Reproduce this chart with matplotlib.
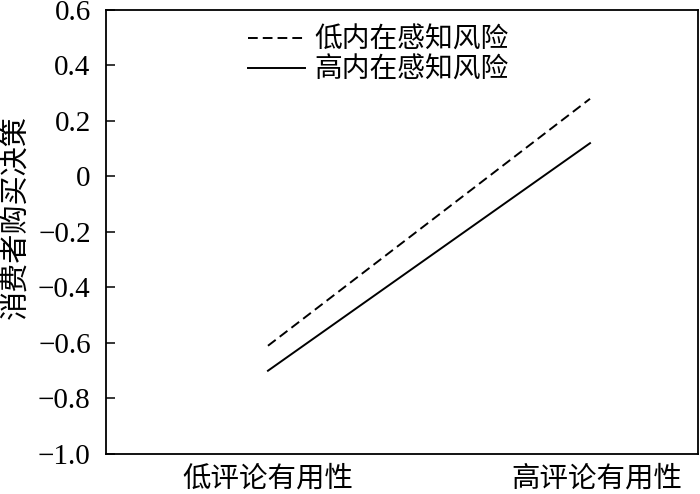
"""Interaction plot: review usefulness x intrinsic perceived risk."""

import matplotlib

matplotlib.use("Agg")
import matplotlib.pyplot as plt

plt.rcParams["font.family"] = ["Liberation Serif", "Noto Sans CJK SC"]
plt.rcParams["axes.unicode_minus"] = True

# data
x_labels = ["低评论有用性", "高评论有用性"]
x_pos = [0, 1]
low_risk = [-0.61, 0.28]
high_risk = [-0.70, 0.12]
series_names = ["低内在感知风险", "高内在感知风险"]
y_ticks = [0.6, 0.4, 0.2, 0, -0.2, -0.4, -0.6, -0.8, -1.0]
y_tick_labels = ["0.6", "0.4", "0.2", "0", "−0.2", "−0.4", "−0.6", "−0.8", "−1.0"]
y_title = "消费者购买决策"

CJK = ["Noto Sans CJK SC", "DejaVu Sans"]


def main():
    fig = plt.figure(figsize=(7.0, 4.94), dpi=100)
    ax = fig.add_axes([0.1514, 0.081, 0.8456, 0.8988])

    ax.plot(x_pos, low_risk, color="black", lw=1.4, linestyle=(0, (5, 2.6)),
            label=series_names[0])
    ax.plot(x_pos, high_risk, color="black", lw=1.4, label=series_names[1])

    ax.set_xlim(-0.503, 1.335)
    ax.set_ylim(-1.0, 0.6)

    ax.set_yticks(y_ticks)
    ax.set_yticklabels(y_tick_labels, fontsize=21)
    ax.tick_params(axis="y", direction="in", length=6.5, width=1.1, pad=11)

    ax.set_xticks([0, 1.02])
    ax.set_xticklabels(x_labels, fontsize=20.5, family=CJK)
    ax.tick_params(axis="x", length=0, pad=7)

    for sp in ax.spines.values():
        sp.set_linewidth(1.3)

    ax.set_ylabel(y_title, fontsize=21, family=CJK)
    ax.yaxis.set_label_coords(-0.126, 0.534)

    ax.legend(
        loc="upper left",
        bbox_to_anchor=(0.24, 0.967),
        frameon=False,
        prop={"family": CJK, "size": 20},
        handlelength=2.05,
        handletextpad=0.35,
        labelspacing=0.0,
        borderpad=0,
        borderaxespad=0,
    )

    fig.savefig("out.png", dpi=100)


if __name__ == "__main__":
    main()
